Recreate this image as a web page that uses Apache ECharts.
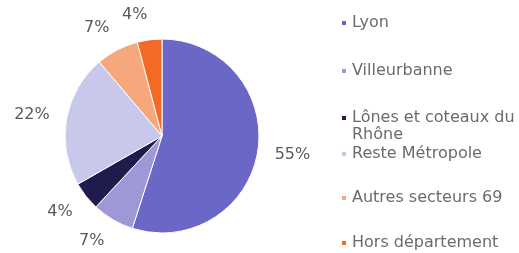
<!DOCTYPE html>
<html>
<head>
<meta charset="utf-8">
<script src="https://cdn.jsdelivr.net/npm/echarts@6/dist/echarts.min.js"></script>
<style>
    html, body { margin: 0; padding: 0; background: #fff; }
    #main { width: 519px; height: 253px; }
</style>
</head>
<body>
<div id="main"></div>
<script>
var names = ['Lyon', 'Villeurbanne', 'Lônes et coteaux du\nRhône', 'Reste Métropole', 'Autres secteurs 69', 'Hors département'];
var values = [55, 7, 4.8, 22.1, 7.1, 4.1];
var labels = ['55%', '7%', '4%', '22%', '7%', '4%'];
var colors = ['#6b67c7', '#9c99d6', '#1f1c4d', '#c8c8ec', '#f7a77c', '#f36a24'];

// centre vertical de chaque entrée de légende
var legendY = [23, 71, 118, 154, 198, 243];

var cx = 162, cy = 136, r = 97, gap = 17;

var data = [];
for (var i in names) {
    data.push({ name: names[i], value: values[i], itemStyle: { color: colors[i] } });
}

// angle milieu de chaque part (depuis midi, sens horaire)
var total = 0;
for (var i in values) total += values[i];
var midAngles = [];
var acc = 0;
for (var i in values) {
    midAngles.push((acc + values[i] / 2) / total * 2 * Math.PI);
    acc += values[i];
}

var lh = 17;
var legends = [];
for (var i in names) {
    var multi = names[i].indexOf('\n') >= 0;
    legends.push({
        left: 340,
        top: multi ? legendY[i] - lh * 1.5 : legendY[i] - lh / 2,
        padding: 0,
        orient: 'vertical',
        itemWidth: 6,
        itemHeight: 6,
        itemGap: 0,
        icon: 'rect',
        data: [names[i]],
        formatter: multi ? function (n) { return '\n' + n; } : '{name}',
        textStyle: {
            fontFamily: 'DejaVu Sans',
            fontSize: 16,
            color: '#6b6b6b',
            lineHeight: lh,
            padding: [0, 0, 0, 0]
        }
    });
}

var option = {
    animation: false,
    legend: legends,
    series: [
        {
            type: 'pie',
            center: [cx, cy],
            radius: r,
            startAngle: 90,
            clockwise: true,
            avoidLabelOverlap: false,
            itemStyle: { borderColor: '#fff', borderWidth: 1 },
            label: {
                show: true,
                position: 'outside',
                formatter: function (p) { return labels[p.dataIndex]; },
                fontFamily: 'DejaVu Sans',
                fontSize: 16,
                color: '#595959'
            },
            labelLine: { show: false },
            labelLayout: function (params) {
                var a = midAngles[params.dataIndex];
                var dx = Math.sin(a), dy = -Math.cos(a);
                var w = params.labelRect.width, h = params.labelRect.height;
                var d = r + gap;
                return {
                    x: cx + dx * d + (dx < 0 ? -1 : 1) * w / 2,
                    y: cy + dy * d + dy * h / 2,
                    align: 'center',
                    verticalAlign: 'middle'
                };
            },
            data: data
        }
    ]
};

echarts.init(document.getElementById('main')).setOption(option);
</script>
</body>
</html>
